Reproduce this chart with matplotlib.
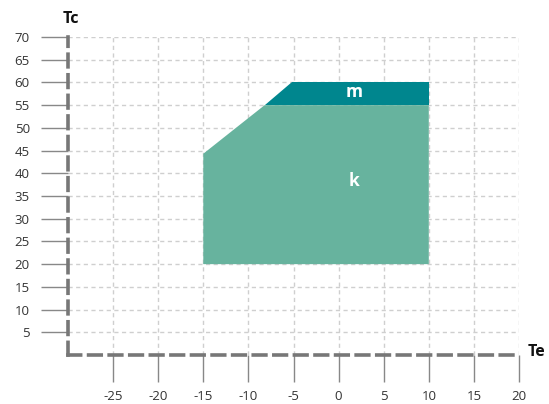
import matplotlib
matplotlib.use('Agg')
from matplotlib import pyplot as plt
from matplotlib.patches import Polygon

# operating envelope, evaporating temp (Te) vs condensing temp (Tc)
k_te = [-15, 10, 10, -8.2, -11.7, -15]
k_tc = [20, 20, 55, 55, 49.5, 44.3]
m_te = [-8.2, 10, 10, -5.2]
m_tc = [55, 55, 60, 60]

x_ticks = [-25, -20, -15, -10, -5, 0, 5, 10, 15, 20]
y_ticks = [5, 10, 15, 20, 25, 30, 35, 40, 45, 50, 55, 60, 65, 70]

plt.rcParams['font.family'] = ['Open Sans', 'DejaVu Sans']
plt.rcParams['axes.unicode_minus'] = False

fig = plt.figure(figsize=(5.49, 4.04), dpi=100)
W, H = 549, 404
ax = fig.add_axes([68 / W, (H - 355) / H, (519 - 68) / W, (355 - 37) / H])
ax.set_xlim(-30, 20)
ax.set_ylim(0, 70)

ax.grid(True, color='#cfcfcf', linestyle=(0, (3, 2.5)), linewidth=1)
ax.set_axisbelow(True)

ax.add_patch(Polygon(list(zip(k_te, k_tc)), closed=True, facecolor='#67b39e', edgecolor='none', zorder=2))
ax.add_patch(Polygon(list(zip(m_te, m_tc)), closed=True, facecolor='#00868e', edgecolor='none', zorder=2))

ax.text(1.7, 57.8, 'm', color='white', fontsize=12.5, fontweight='bold', ha='center', va='center', zorder=3)
ax.text(1.7, 38.4, 'k', color='white', fontsize=12.5, fontweight='bold', ha='center', va='center', zorder=3)

for s in ['top', 'right']:
    ax.spines[s].set_visible(False)
for s in ['left', 'bottom']:
    ax.spines[s].set_color('#777777')
    ax.spines[s].set_linewidth(2.6)
    ax.spines[s].set_linestyle((0, (3.5, 2.2)))
    ax.spines[s].set_zorder(4)

ax.set_xticks(x_ticks)
ax.set_yticks(y_ticks)
ax.tick_params(axis='both', direction='out', length=19.5, width=1, color='#888888',
               labelsize=9.5, labelcolor='#333333')
ax.tick_params(axis='y', pad=8)
ax.tick_params(axis='x', pad=6)

fig.text(71 / W, 1 - 19 / H, 'Tc', fontsize=11.5, fontweight='bold', ha='center', va='center', color='#111111')
fig.text(537 / W, 1 - 352 / H, 'Te', fontsize=11.5, fontweight='bold', ha='center', va='center', color='#111111')

plt.savefig('out.png', dpi=100)
